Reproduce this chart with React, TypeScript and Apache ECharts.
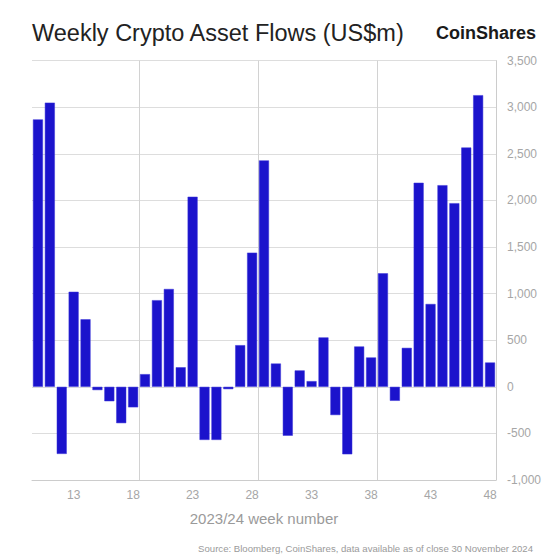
import React, { useEffect, useRef } from "react";
import * as echarts from "echarts";

const weeks: string[] = [
  "10", "11", "12", "13", "14", "15", "16", "17", "18", "19",
  "20", "21", "22", "23", "24", "25", "26", "27", "28", "29",
  "30", "31", "32", "33", "34", "35", "36", "37", "38", "39",
  "40", "41", "42", "43", "44", "45", "46", "47", "48",
];

const flows: number[] = [
  2870, 3050, -720, 1020, 725, -35, -155, -390, -220, 136,
  930, 1050, 210, 2040, -570, -570, -25, 447, 1440, 2430,
  250, -525, 176, 61, 530, -303, -724, 433, 315, 1218,
  -150, 418, 2190, 889, 2164, 1971, 2568, 3130, 261,
];

const labelledWeeks: string[] = ["13", "18", "23", "28", "33", "38", "43", "48"];
const dividerWeeks: string[] = ["19", "29", "39"];

const titleText = "Weekly Crypto Asset Flows (US$m)";
const brandText = "CoinShares";
const axisNameText = "2023/24 week number";
const sourceText = "Source: Bloomberg, CoinShares, data available as of close 30 November 2024";

const FONT = "'Liberation Sans', Arial, Helvetica, sans-serif";

export default function App() {
  const ref = useRef<HTMLDivElement>(null);

  useEffect(() => {
    if (!ref.current) return;
    const chart = echarts.init(ref.current, undefined, { renderer: "svg" });
    chart.setOption({
      animation: false,
      backgroundColor: "#ffffff",
      textStyle: { fontFamily: FONT },
      grid: { left: 32, right: 64, top: 60.7, bottom: 79, containLabel: false },
      xAxis: {
        type: "category",
        data: weeks,
        boundaryGap: true,
        axisLine: { show: true, onZero: false, lineStyle: { color: "#cccccc", width: 1 } },
        axisTick: { show: false },
        axisLabel: {
          interval: (_i: number, v: string) => labelledWeeks.includes(v),
          color: "#a6a6a6",
          fontSize: 12,
          margin: 9,
          fontFamily: FONT,
        },
        splitLine: {
          show: true,
          interval: (_i: number, v: string) => dividerWeeks.includes(v),
          lineStyle: { color: "#d2d2d2", width: 1 },
        },
        name: axisNameText,
        nameLocation: "middle",
        nameGap: 31,
        nameTextStyle: { color: "#9a9a9a", fontSize: 15, fontFamily: FONT },
      },
      yAxis: {
        type: "value",
        position: "right",
        min: -1000,
        max: 3500,
        interval: 500,
        axisLine: { show: true, lineStyle: { color: "#cccccc", width: 1 } },
        axisTick: { show: false },
        axisLabel: {
          color: "#a6a6a6",
          fontSize: 12,
          margin: 11,
          fontFamily: FONT,
          formatter: (v: number) => v.toLocaleString("en-US"),
        },
        splitLine: { show: true, lineStyle: { color: "#dddddd", width: 1 } },
      },
      series: [
        {
          type: "bar",
          data: flows,
          barCategoryGap: "16%",
          itemStyle: { color: "#1b13cc", borderColor: "#3a34d8", borderWidth: 0.5 },
        },
      ],
      graphic: [
        {
          type: "text",
          left: 32,
          top: 21,
          style: {
            text: titleText,
            fill: "#222222",
            font: `23.5px ${FONT}`,
          },
        },
        {
          type: "text",
          right: 24,
          top: 24,
          style: {
            text: brandText,
            fill: "#1a1a1a",
            font: `bold 18px ${FONT}`,
          },
        },
        {
          type: "text",
          right: 27,
          top: 543,
          style: {
            text: sourceText,
            fill: "#9a9a9a",
            font: `9.6px ${FONT}`,
          },
        },
      ],
    });
    return () => chart.dispose();
  }, []);

  return (
    <div
      ref={ref}
      style={{ position: "fixed", left: 0, top: 0, width: 560, height: 559, background: "#fff" }}
    />
  );
}
